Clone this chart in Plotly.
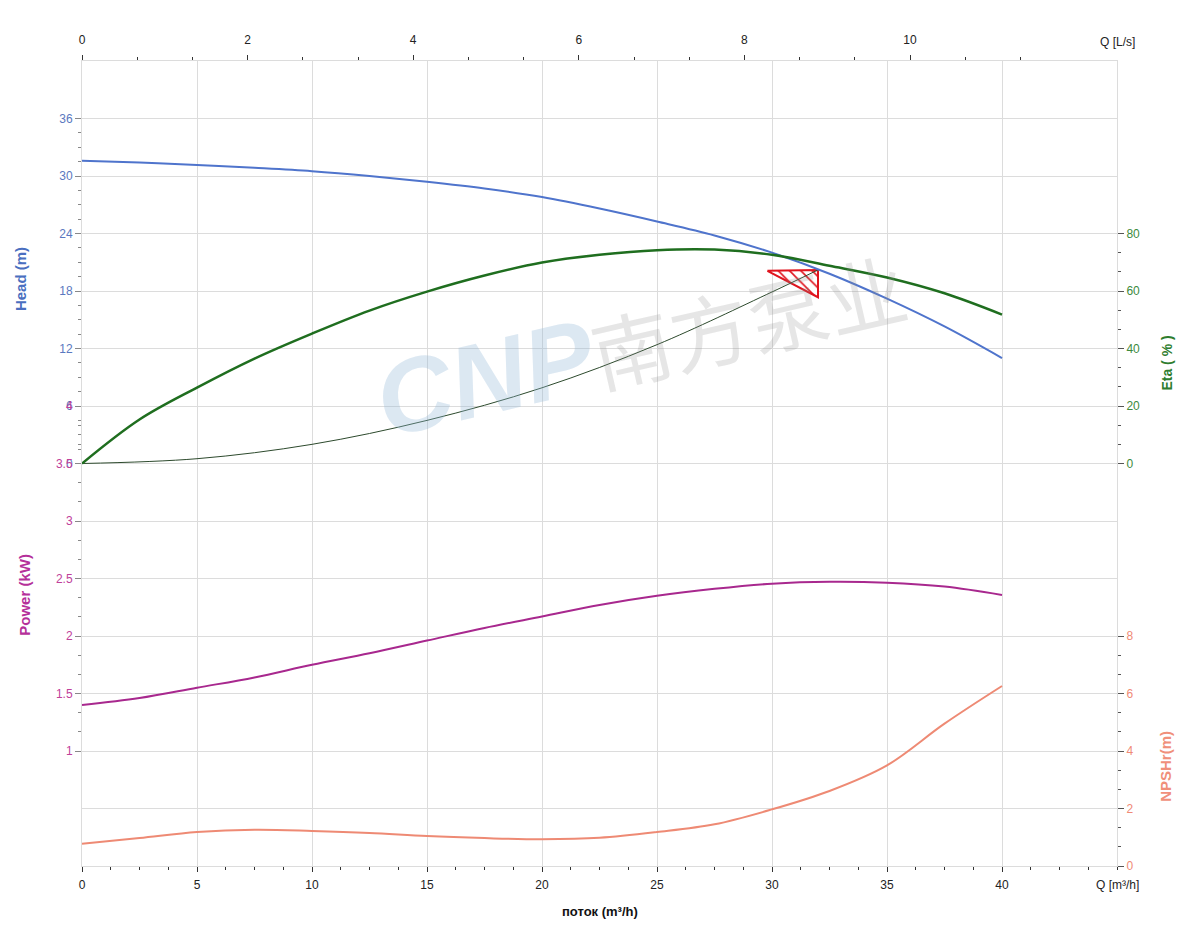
import plotly.graph_objects as go

# flow points (m3/h)
q = [0, 2.5, 5, 7.5, 10, 12.5, 15, 17.5, 20, 22.5, 25, 27.5, 30, 32.5, 35, 37.5, 40]

# curves
head = [31.6, 31.4, 31.15, 30.85, 30.5, 30.0, 29.4, 28.7, 27.8, 26.6, 25.25, 23.8, 22.0, 19.8, 17.2, 14.3, 11.0]
eta = [0, 15.3, 26.4, 36.5, 45.2, 53.2, 59.8, 65.4, 69.9, 72.6, 74.2, 74.4, 72.6, 68.8, 64.7, 59.2, 51.8]
power = [1.40, 1.46, 1.55, 1.64, 1.75, 1.85, 1.96, 2.07, 2.17, 2.27, 2.35, 2.41, 2.455, 2.472, 2.464, 2.43, 2.357]
npsh = [0.77, 0.97, 1.18, 1.26, 1.22, 1.15, 1.04, 0.97, 0.93, 0.98, 1.18, 1.45, 1.97, 2.61, 3.50, 4.95, 6.26]

# system curve up to the duty point
q_sys = [0, 5, 10, 15, 20, 25, 30, 32.0]
h_sys = [0, 0.5, 2.0, 4.5, 7.9, 12.4, 17.9, 20.2]

# duty point triangle
tri_q = [29.8, 32.0, 32.0, 29.8]
tri_h = [20.1, 20.2, 17.35, 20.1]

# ticks
q_ticks = [0, 5, 10, 15, 20, 25, 30, 35, 40]
ls_ticks = [0, 2, 4, 6, 8, 10]
head_ticks = [0, 6, 12, 18, 24, 30, 36]
power_ticks = [1, 1.5, 2, 2.5, 3, 3.5, 4]
eta_ticks = [0, 20, 40, 60, 80]
npsh_ticks = [0, 2, 4, 6, 8]

C_HEAD = "#4f74cc"
C_ETA = "#1f6e1f"
C_POW = "#a8288e"
C_NPSH = "#ee8a74"
GRID = "#dcdcdc"
FONT = "Liberation Sans, Arial, sans-serif"


def minors(start, stop, step, majors):
    out = []
    v = start
    while v <= stop + 1e-9:
        if all(abs(v - m) > 1e-6 for m in majors):
            out.append(round(v, 4))
        v += step
    return out


fig = go.Figure()

# empty traces so the base grid axis and top axis are drawn
fig.add_trace(go.Scatter(x=[], y=[], xaxis="x", yaxis="y", hoverinfo="skip"))
fig.add_trace(go.Scatter(x=[], y=[], xaxis="x2", yaxis="y", hoverinfo="skip"))

# duty point marker first so the system curve stays visible through it
fig.add_trace(go.Scatter(x=tri_q, y=tri_h, yaxis="y2", mode="lines", fill="toself",
                         fillcolor="white",
                         fillpattern=dict(shape="\\", fgcolor="#e0141e", bgcolor="white",
                                          size=8, solidity=0.2, fillmode="replace"),
                         line=dict(color="#e0141e", width=2), name="duty"))
fig.add_trace(go.Scatter(x=q_sys, y=h_sys, yaxis="y2", mode="lines", line=dict(color="#2d4a2d", width=1, shape="spline"), name="system"))
fig.add_trace(go.Scatter(x=q, y=head, yaxis="y2", mode="lines", line=dict(color=C_HEAD, width=2, shape="spline"), name="Head"))
fig.add_trace(go.Scatter(x=q, y=eta, yaxis="y4", mode="lines", line=dict(color=C_ETA, width=2.5, shape="spline"), name="Eta"))
fig.add_trace(go.Scatter(x=q, y=power, yaxis="y3", mode="lines", line=dict(color=C_POW, width=2, shape="spline"), name="Power"))
fig.add_trace(go.Scatter(x=q, y=npsh, yaxis="y5", mode="lines", line=dict(color=C_NPSH, width=2, shape="spline"), name="NPSHr"))

tick_common = dict(ticks="outside", showgrid=False, zeroline=False, showline=True,
                   linecolor=GRID, automargin=False)

# page body adds an 8px offset, so margins are trimmed by that amount
fig.update_layout(
    width=1200, height=950,
    margin=dict(l=74, r=91, t=53, b=92, autoexpand=False),
    plot_bgcolor="white", paper_bgcolor="white",
    showlegend=False,
    font=dict(family=FONT, size=12, color="#222"),
    xaxis=dict(range=[0, 45], tickvals=q_ticks, ticks="outside", ticklen=5, tickcolor="#333",
               showgrid=True, gridcolor=GRID, zeroline=False, showline=True, linecolor=GRID,
               anchor="y", automargin=False, ticklabelstandoff=3,
               tickfont=dict(size=12, color="#222"),
               minor=dict(tickmode="array", tickvals=minors(0, 45, 1.25, q_ticks), ticklen=3,
                          tickcolor="#333", showgrid=False)),
    xaxis2=dict(range=[0, 12.5], tickvals=ls_ticks, overlaying="x", side="top", anchor="y",
                ticks="outside", ticklen=5, tickcolor="#333", showgrid=False, zeroline=False,
                showline=True, linecolor=GRID, automargin=False, ticklabelstandoff=6,
                tickfont=dict(size=12, color="#222"),
                minor=dict(tickmode="array", tickvals=minors(0, 11.4, 2 / 3, ls_ticks), ticklen=3,
                           tickcolor="#333", showgrid=False)),
    yaxis=dict(range=[0, 14], tickvals=list(range(15)), showgrid=True, gridcolor=GRID,
               showticklabels=False, ticks="", zeroline=False, showline=False, automargin=False),
    yaxis2=dict(range=[-42, 42], tickvals=head_ticks, overlaying="y", side="left", anchor="x",
                ticklen=6, tickcolor="#888", tickfont=dict(size=12, color="#5a78c0"),
                minor=dict(tickmode="array", tickvals=minors(0, 36, 1.5, head_ticks), ticklen=3,
                           tickcolor="#888"),
                **tick_common),
    yaxis3=dict(range=[0, 7], tickvals=power_ticks, overlaying="y", side="left", anchor="x",
                ticklen=6, tickcolor="#888", tickfont=dict(size=12, color="#c0409a"),
                minor=dict(tickmode="array", tickvals=minors(1, 4, 1 / 6, power_ticks), ticklen=3,
                           tickcolor="#888"),
                **tick_common),
    yaxis4=dict(range=[-140, 140], tickvals=eta_ticks, overlaying="y", side="right", anchor="x",
                ticklen=6, tickcolor="#555", tickfont=dict(size=12, color="#3d8a3d"),
                minor=dict(tickmode="array", tickvals=minors(0, 80, 20 / 3, eta_ticks), ticklen=3,
                           tickcolor="#555"),
                **tick_common),
    yaxis5=dict(range=[0, 28], tickvals=npsh_ticks, overlaying="y", side="right", anchor="x",
                ticklen=6, tickcolor="#555", tickfont=dict(size=12, color="#f08a76"),
                minor=dict(tickmode="array", tickvals=minors(0, 8, 2 / 3, npsh_ticks), ticklen=3,
                           tickcolor="#555"),
                **tick_common),
)


def label(text, x, y, size, color, angle=0):
    return dict(text=text, x=x, y=y, xref="paper", yref="paper", showarrow=False,
                xanchor="center", yanchor="middle", textangle=angle,
                font=dict(size=size, color=color))


annotations = [
    # watermark
    dict(text="<b><i><span style='color:rgba(150,185,215,0.33);font-size:104px'>CNP</span></i></b>"
              "<span style='color:rgba(140,140,140,0.22)'>南方泵业</span>",
         x=0.54, y=0.80, xref="paper", yref="paper", showarrow=False, textangle=-13,
         font=dict(size=80, family="Liberation Sans, Noto Sans CJK SC")),
    label("<b>Head (m)</b>", -0.060, 0.729, 15, "#4a6fc0", -90),
    label("<b>Power (kW)</b>", -0.055, 0.337, 15, "#b5309a", -90),
    label("<b>Eta ( % )</b>", 1.048, 0.625, 14, "#2e7d2e", -90),
    label("<b>NPSHr(m)</b>", 1.047, 0.124, 15, "#f0907a", -90),
    label("<b>поток (m³/h)</b>", 0.5, -0.056, 13, "#111"),
    label("Q [m³/h]", 1.0, -0.0236, 12, "#222"),
    label("Q [L/s]", 1.0, 1.0236, 12, "#222"),
]
fig.update_layout(annotations=annotations)

fig.write_html("out.html")
